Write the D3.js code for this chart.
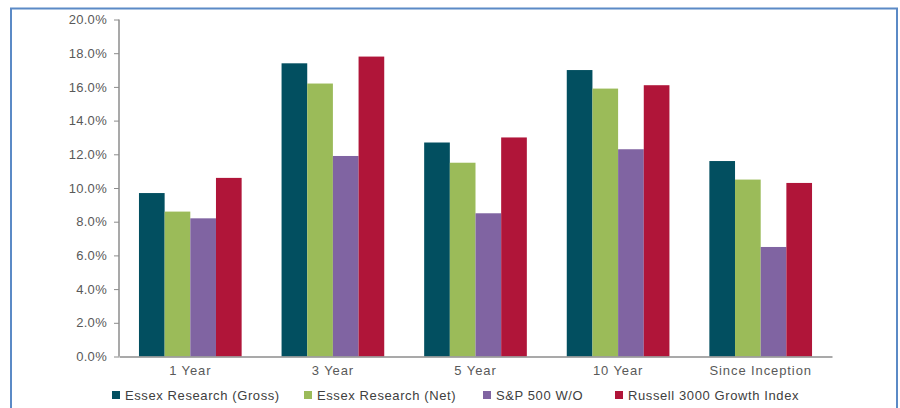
<!DOCTYPE html>
<html>
<head>
<meta charset="utf-8">
<script src="https://d3js.org/d3.v7.min.js"></script>
<style>
  body { margin: 0; background: #fff; }
  text { font-family: "Liberation Sans", Arial, sans-serif; }
</style>
</head>
<body>
<div class="chart"></div>
<script>
var width = 900, height = 408;

// data
var periods = ["1 Year", "3 Year", "5 Year", "10 Year", "Since Inception"];
var seriesNames = ["Essex Research (Gross)", "Essex Research (Net)", "S&P 500 W/O", "Russell 3000 Growth Index"];
var gross = [9.7, 17.4, 12.7, 17.0, 11.6];
var net = [8.6, 16.2, 11.5, 15.9, 10.5];
var sp500 = [8.2, 11.9, 8.5, 12.3, 6.5];
var russell = [10.6, 17.8, 13.0, 16.1, 10.3];
var yTicks = [0, 2, 4, 6, 8, 10, 12, 14, 16, 18, 20];
var colors = ["#024f60", "#9bbb59", "#8064a2", "#b01539"];

var series = [gross, net, sp500, russell];

var svg = d3.select(".chart").append("svg")
    .attr("width", width)
    .attr("height", height);

// outer frame
svg.append("rect")
    .attr("x", 11).attr("y", 8.5)
    .attr("width", 886).attr("height", 430)
    .attr("fill", "none")
    .attr("stroke", "#5b8ac6")
    .attr("stroke-width", 2);

var margin = {left: 119, right: 832, top: 19.5, bottom: 356.5};

var x = d3.scaleBand()
    .domain(periods)
    .range([margin.left, margin.right])
    .paddingInner(0.28)
    .paddingOuter(0.14);

var x1 = d3.scaleBand()
    .domain(d3.range(series.length))
    .range([0, x.bandwidth()]);

var y = d3.scaleLinear()
    .domain([0, 20])
    .range([margin.bottom, margin.top]);

// bars
var groups = svg.append("g").selectAll("g")
    .data(periods)
    .enter().append("g")
    .attr("transform", function(d) { return "translate(" + x(d) + ",0)"; });

groups.selectAll("rect")
    .data(function(d, i) { return series.map(function(s, k) { return {k: k, v: s[i]}; }); })
    .enter().append("rect")
    .attr("x", function(d) { return x1(d.k); })
    .attr("width", x1.bandwidth())
    .attr("y", function(d) { return y(d.v); })
    .attr("height", function(d) { return y(0) - y(d.v); })
    .attr("fill", function(d) { return colors[d.k]; });

// y axis
var yAxis = svg.append("g")
    .attr("transform", "translate(" + margin.left + ",0)")
    .call(d3.axisLeft(y).tickValues(yTicks).tickSize(5).tickPadding(7)
      .tickFormat(function(d) { return d3.format(".1f")(d) + "%"; }));
yAxis.select(".domain").attr("stroke", "#8c8c8c").attr("stroke-width", 1.5).attr("d", "M0," + margin.top + "V" + margin.bottom);
yAxis.selectAll(".tick line").attr("stroke", "#8c8c8c");
yAxis.selectAll("text").attr("fill", "#595959").style("font-size", "13px").style("letter-spacing", "0.3px");

// x axis
var xAxis = svg.append("g")
    .attr("transform", "translate(0," + margin.bottom + ")")
    .call(d3.axisBottom(x).tickSize(0).tickPadding(9));
xAxis.select(".domain").attr("stroke", "#8c8c8c").attr("stroke-width", 1.5);
xAxis.selectAll("text").attr("fill", "#595959").style("font-size", "13px").style("letter-spacing", "0.9px");

// legend
var legendX = [112, 304, 483, 615];
var legend = svg.append("g").selectAll("g")
    .data(seriesNames)
    .enter().append("g")
    .attr("transform", function(d, i) { return "translate(" + legendX[i] + ",395)"; });
legend.append("rect")
    .attr("x", 0).attr("y", -4)
    .attr("width", 8).attr("height", 8)
    .attr("fill", function(d, i) { return colors[i]; });
legend.append("text")
    .attr("x", 13).attr("dy", "0.35em")
    .attr("fill", "#404040")
    .style("font-size", "13px")
    .style("letter-spacing", "0.6px")
    .text(function(d) { return d; });
</script>
</body>
</html>
